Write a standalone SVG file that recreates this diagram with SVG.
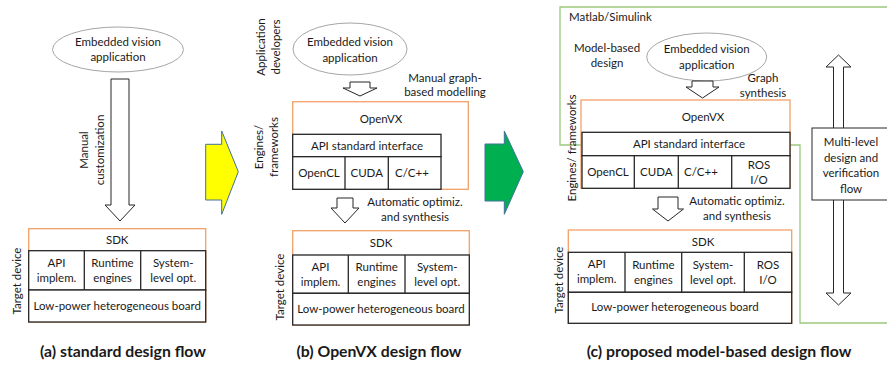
<svg xmlns="http://www.w3.org/2000/svg" width="887" height="366" viewBox="0 0 887 366">
  <style>
    text { font-family: Lato, "Open Sans", "Liberation Sans", sans-serif; font-size: 11.5px; fill: #1a1a1a; }
    .c { text-anchor: middle; }
    .cap { font-size: 15.8px; font-weight: bold; text-anchor: middle; }
    .app { fill: #ffffff; stroke: #a6a6a6; stroke-width: 1; }
    .frame { fill: #ffffff; stroke: #f1a068; stroke-width: 1.3; }
    .cell { fill: #ffffff; stroke: #262626; stroke-width: 1.3; }
    .flow { fill: #ffffff; stroke: #262626; stroke-width: 1; }
    .move { stroke: #41719c; stroke-width: 1; }
    .zone { fill: none; stroke: #9cc97c; stroke-width: 1.3; }
  </style>

  <!-- transition arrows between the three flows -->
  <g id="to-openvx">
    <polygon class="move" fill="#ffff00" points="205.7,144.3 221.7,144.3 221.7,131 238.3,171.7 221.7,214.3 221.7,200 205.7,200"/>
  </g>
  <g id="to-model-based">
    <polygon class="move" fill="#00b050" points="485,144 504.3,144 504.3,131 523.3,171.7 504.3,214.3 504.3,201 485,201"/>
  </g>

  <!-- (a) standard design flow -->
  <g id="a-app">
    <ellipse class="app" cx="118" cy="49.5" rx="65.5" ry="22.5"/>
    <text class="c" x="118" y="46">Embedded vision</text>
    <text class="c" x="118" y="61">application</text>
  </g>
  <g id="a-sdk">
    <rect class="frame" x="28.7" y="228.7" width="177" height="93.3"/>
    <rect class="cell" x="28.7" y="250.7" width="177" height="39.3"/>
    <rect class="cell" x="28.7" y="290" width="177" height="32"/>
    <line class="cell" x1="84.3" y1="250.7" x2="84.3" y2="290"/>
    <line class="cell" x1="140.7" y1="250.7" x2="140.7" y2="290"/>
    <text class="c" x="117.2" y="244">SDK</text>
    <text class="c" x="56.5" y="267">API</text>
    <text class="c" x="56.5" y="282">implem.</text>
    <text class="c" x="112.5" y="267">Runtime</text>
    <text class="c" x="112.5" y="282">engines</text>
    <text class="c" x="173.2" y="267">System-</text>
    <text class="c" x="173.2" y="282">level opt.</text>
    <text class="c" x="117.2" y="310">Low-power heterogeneous board</text>
  </g>
  <g id="a-labels">
    <text class="c" transform="translate(21,281) rotate(-90)">Target device</text>
  </g>

  <!-- (b) OpenVX design flow -->
  <g id="b-app">
    <ellipse class="app" cx="350" cy="49" rx="57" ry="26"/>
    <text class="c" x="350" y="46">Embedded vision</text>
    <text class="c" x="350" y="62">application</text>
  </g>
  <g id="b-openvx">
    <rect class="frame" x="292.7" y="101.7" width="175.6" height="87.6"/>
    <rect class="cell" x="292.7" y="134.3" width="148.3" height="22.4"/>
    <rect class="cell" x="292.7" y="156.7" width="148.3" height="32.6"/>
    <line class="cell" x1="345" y1="156.7" x2="345" y2="189.3"/>
    <line class="cell" x1="388.3" y1="156.7" x2="388.3" y2="189.3"/>
    <text class="c" x="381" y="123">OpenVX</text>
    <text class="c" x="367" y="150">API standard interface</text>
    <text class="c" x="319" y="177">OpenCL</text>
    <text class="c" x="366.7" y="177">CUDA</text>
    <text class="c" x="412" y="177">C/C++</text>
  </g>
  <g id="b-sdk">
    <rect class="frame" x="292.7" y="230.7" width="176.6" height="94.3"/>
    <rect class="cell" x="292.7" y="255" width="176.6" height="38.3"/>
    <rect class="cell" x="292.7" y="293.3" width="176.6" height="31.7"/>
    <line class="cell" x1="348.3" y1="255" x2="348.3" y2="293.3"/>
    <line class="cell" x1="405" y1="255" x2="405" y2="293.3"/>
    <text class="c" x="381" y="247">SDK</text>
    <text class="c" x="320.5" y="271">API</text>
    <text class="c" x="320.5" y="286">implem.</text>
    <text class="c" x="376.7" y="271">Runtime</text>
    <text class="c" x="376.7" y="286">engines</text>
    <text class="c" x="437.2" y="271">System-</text>
    <text class="c" x="437.2" y="286">level opt.</text>
    <text class="c" x="381" y="313">Low-power heterogeneous board</text>
  </g>
  <g id="b-labels">
    <text class="c" transform="translate(265,47) rotate(-90)">Application</text>
    <text class="c" transform="translate(279.5,47) rotate(-90)">developers</text>
    <text class="c" transform="translate(263,147) rotate(-90)">Engines/</text>
    <text class="c" transform="translate(277.5,147) rotate(-90)">frameworks</text>
    <text class="c" transform="translate(284,287) rotate(-90)">Target device</text>
    <text class="c" x="445" y="82">Manual graph-</text>
    <text class="c" x="445" y="96">based modelling</text>
    <text class="c" x="415" y="206">Automatic optimiz.</text>
    <text class="c" x="415" y="221">and synthesis</text>
  </g>

  <!-- (c) proposed model-based design flow: Simulink region behind the stack -->
  <g id="c-simulink">
    <path class="zone" d="M 890 7 H 560 V 145 H 800 V 323 H 890"/>
    <text x="569" y="21">Matlab/Simulink</text>
    <text class="c" x="607" y="52">Model-based</text>
    <text class="c" x="607" y="67">design</text>
  </g>
  <g id="c-app">
    <ellipse class="app" cx="706.7" cy="57" rx="60" ry="24"/>
    <text class="c" x="706.7" y="53">Embedded vision</text>
    <text class="c" x="706.7" y="69">application</text>
  </g>
  <g id="c-openvx">
    <rect class="frame" x="581" y="100" width="209" height="88.3"/>
    <rect class="cell" x="582" y="132.3" width="208" height="23.4"/>
    <rect class="cell" x="582" y="155.7" width="208" height="32.6"/>
    <line class="cell" x1="634.3" y1="155.7" x2="634.3" y2="188.3"/>
    <line class="cell" x1="678.3" y1="155.7" x2="678.3" y2="188.3"/>
    <line class="cell" x1="731.7" y1="155.7" x2="731.7" y2="188.3"/>
    <text class="c" x="703" y="121">OpenVX</text>
    <text class="c" x="689" y="148">API standard interface</text>
    <text class="c" x="608" y="176">OpenCL</text>
    <text class="c" x="656.3" y="176">CUDA</text>
    <text class="c" x="701" y="176">C/C++</text>
    <text class="c" x="759" y="169">ROS</text>
    <text class="c" x="759" y="184">I/O</text>
  </g>
  <g id="c-sdk">
    <rect class="frame" x="568.3" y="230" width="223.4" height="93.3"/>
    <rect class="cell" x="568.3" y="252.3" width="223.4" height="40"/>
    <rect class="cell" x="568.3" y="292.3" width="223.4" height="31"/>
    <line class="cell" x1="625" y1="252.3" x2="625" y2="292.3"/>
    <line class="cell" x1="681.7" y1="252.3" x2="681.7" y2="292.3"/>
    <line class="cell" x1="744.3" y1="252.3" x2="744.3" y2="292.3"/>
    <text class="c" x="703" y="246">SDK</text>
    <text class="c" x="596.7" y="268">API</text>
    <text class="c" x="596.7" y="283">implem.</text>
    <text class="c" x="653.3" y="269">Runtime</text>
    <text class="c" x="653.3" y="284">engines</text>
    <text class="c" x="713" y="269">System-</text>
    <text class="c" x="713" y="284">level opt.</text>
    <text class="c" x="768" y="269">ROS</text>
    <text class="c" x="768" y="284">I/O</text>
    <text class="c" x="675" y="311">Low-power heterogeneous board</text>
  </g>
  <g id="c-labels">
    <text class="c" transform="translate(576,148) rotate(-90)">Engines/ frameworks</text>
    <text class="c" transform="translate(563,280) rotate(-90)">Target device</text>
    <text class="c" x="763" y="82">Graph</text>
    <text class="c" x="763" y="97">synthesis</text>
    <text class="c" x="737" y="205">Automatic optimiz.</text>
    <text class="c" x="737" y="220">and synthesis</text>
  </g>
  <g id="c-verification">
    <polygon class="flow" points="838.5,55 851,67 843.5,67 843.5,293 851,293 838.5,305 826,293 833.5,293 833.5,67 826,67"/>
    <rect class="flow" x="812" y="128" width="80" height="72"/>
    <text class="c" x="851" y="146">Multi-level</text>
    <text class="c" x="851" y="161.5">design and</text>
    <text class="c" x="851" y="177">verification</text>
    <text class="c" x="851" y="192.5">flow</text>
  </g>

  <!-- block arrows between the layers -->
  <g id="connectors">
    <polygon class="flow" points="111,79 129,79 129,205 135,205 120,221 105,205 111,205"/>
    <polygon class="flow" points="350,82 370,82 370,88 377,88 360,96 343,88 350,88"/>
    <polygon class="flow" points="337,198 353,198 353,208 359,208 345,223 331,208 337,208"/>
    <polygon class="flow" points="692,81 713,81 713,87 719,87 702.5,98 686,87 692,87"/>
    <polygon class="flow" points="658,197 678,197 678,209 683.5,209 668,221 652.5,209 658,209"/>
  </g>
  <g id="a-manual">
    <text class="c" transform="translate(88,150) rotate(-90)">Manual</text>
    <text class="c" transform="translate(104,150) rotate(-90)">customization</text>
  </g>

  <!-- captions -->
  <text class="cap" x="123" y="357">(a) standard design flow</text>
  <text class="cap" x="379" y="357">(b) OpenVX design flow</text>
  <text class="cap" x="719" y="357">(c) proposed model-based design flow</text>
</svg>
